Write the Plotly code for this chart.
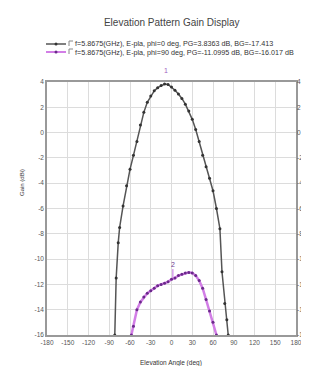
import plotly.graph_objects as go

# ---- data ----
black_deg = [-82, -80, -77, -75, -70, -65, -60, -55, -50, -45, -40, -35, -30, -25, -20, -15, -10, -5,
             0, 5, 10, 15, 20, 25, 30, 35, 40, 45, 50, 55, 60, 65, 70, 73, 77, 80, 82]
black_gain = [-16.0, -11.5, -8.7, -7.5, -5.8, -4.2, -2.9, -1.8, -0.7, 0.6, 1.6, 2.4, 2.9, 3.3, 3.55, 3.72, 3.84, 3.8,
              3.6, 3.35, 3.05, 2.7, 2.25, 1.7, 1.05, 0.25, -0.7, -1.8, -2.7, -3.6, -4.6, -6.0, -7.6, -11.0, -13.5, -14.8, -16.0]

mag_deg = [-58, -55, -50, -45, -40, -35, -30, -25, -20, -15, -10, -5, 0, 5, 10, 15, 20, 25,
           30, 35, 40, 45, 50, 55, 60, 65]
mag_gain = [-16.0, -15.3, -14.0, -13.4, -13.0, -12.7, -12.5, -12.3, -12.1, -12.0, -11.9, -11.8, -11.6, -11.5,
            -11.3, -11.2, -11.1, -11.05, -11.1, -11.3, -11.7, -12.3, -13.2, -14.1, -15.0, -16.0]

x_ticks = [-180, -150, -120, -90, -60, -30, 0, 30, 60, 90, 120, 150, 180]
y_ticks = [4, 2, 0, -2, -4, -6, -8, -10, -12, -14, -16]

names = ["f=5.8675(GHz), E-pla, phi=0 deg, PG=3.8363 dB, BG=-17.413",
         "f=5.8675(GHz), E-pla, phi=90 deg, PG=-11.0995 dB, BG=-16.017 dB"]
line_colors = ["#555555", "#d27ee6"]
marker_colors = ["#333333", "#6a2a8a"]

font = "Liberation Sans"
W, H = 309, 366
L, R, T, B = 39, 21, 74, 39


def px(xp):
    return (xp - L) / (W - L - R)


def py(yp):
    return (H - B - yp) / (H - T - B)


fig = go.Figure()
fig.add_trace(go.Scatter(x=black_deg, y=black_gain, mode="lines+markers", name=names[0], showlegend=False,
                         line=dict(color=line_colors[0], width=1.5),
                         marker=dict(color=marker_colors[0], size=3, symbol="circle")))
fig.add_trace(go.Scatter(x=mag_deg, y=mag_gain, mode="lines+markers", name=names[1], showlegend=False,
                         line=dict(color=line_colors[1], width=2.5),
                         marker=dict(color=marker_colors[1], size=3, symbol="circle")))
# marker 1 symbol at black peak
fig.add_trace(go.Scatter(x=[-8], y=[4.25], mode="markers", showlegend=False, cliponaxis=False,
                         marker=dict(symbol="square-open", size=5, color="#b070d0", line=dict(width=1))))
# invisible trace for right axis
fig.add_trace(go.Scatter(x=[0], y=[0], yaxis="y2", mode="markers", showlegend=False,
                         marker=dict(opacity=0), hoverinfo="skip"))

fig.add_annotation(x=-8, y=4, text="1", showarrow=False, yshift=12,
                   font=dict(size=7, color="#a060c0", family=font))
fig.add_annotation(x=2, y=-11.5, text="2", showarrow=True, ax=0, ay=-14, arrowhead=0,
                   arrowcolor="#c070e0", arrowwidth=1, font=dict(size=7, color="#704090", family=font))

# manual legend
shapes = []
for i, (nm, lc, mc) in enumerate(zip(names, line_colors, marker_colors)):
    yy = 36 + 8 * i
    shapes.append(dict(type="line", xref="paper", yref="paper", x0=px(38), x1=px(58), y0=py(yy), y1=py(yy),
                       line=dict(color=lc, width=1.5 if i == 0 else 2)))
    shapes.append(dict(type="circle", xref="paper", yref="paper", x0=px(46.5), x1=px(49.5),
                       y0=py(yy + 1.5), y1=py(yy - 1.5), fillcolor=mc, line=dict(width=0)))
    shapes.append(dict(type="path", xref="paper", yref="paper",
                       path=f"M {px(61)} {py(yy + 2)} L {px(61)} {py(yy - 3)} L {px(65)} {py(yy - 3)}",
                       line=dict(color="#888888", width=1)))
    fig.add_annotation(xref="paper", yref="paper", x=px(65), y=py(yy), xanchor="left", yanchor="middle",
                       text=nm, showarrow=False, font=dict(size=7.2, color="#333333", family=font))

# axis titles
fig.add_annotation(xref="paper", yref="paper", x=px(163), y=py(355), text="Elevation Angle (deg)",
                   showarrow=False, xanchor="center", yanchor="middle",
                   font=dict(size=6.5, color="#333333", family=font))
fig.add_annotation(xref="paper", yref="paper", x=px(14), y=py(175), text="Gain (dBi)", textangle=-90,
                   showarrow=False, xanchor="center", yanchor="middle",
                   font=dict(size=6, color="#333333", family=font))

axis_common = dict(showgrid=True, gridcolor="#dcdcdc", gridwidth=1, zeroline=False,
                   showline=True, linecolor="#999999", linewidth=1.5, mirror=True, automargin=False,
                   tickfont=dict(size=6.5, color="#555555", family=font), ticks="")

fig.update_layout(
    width=W, height=H,
    margin=dict(l=L, r=R, t=T, b=B),
    paper_bgcolor="white", plot_bgcolor="white",
    shapes=shapes,
    title=dict(text="Elevation Pattern Gain Display", x=0.53, xanchor="center", y=1 - 14 / H, yanchor="middle",
               font=dict(size=10, color="#444444", family=font)),
    xaxis=dict(range=[-180, 180], tickvals=x_ticks, ticktext=[str(v) for v in x_ticks], **axis_common),
    yaxis=dict(range=[-16, 4], tickvals=y_ticks, ticktext=[str(v) for v in y_ticks], **axis_common),
    yaxis2=dict(range=[-16, 4], tickvals=y_ticks, ticktext=[str(v) for v in y_ticks], overlaying="y",
                side="right", showgrid=False, zeroline=False, showline=False, automargin=False,
                tickfont=dict(size=6.5, color="#555555", family=font)),
    showlegend=False,
)

fig.write_html("out.html")
